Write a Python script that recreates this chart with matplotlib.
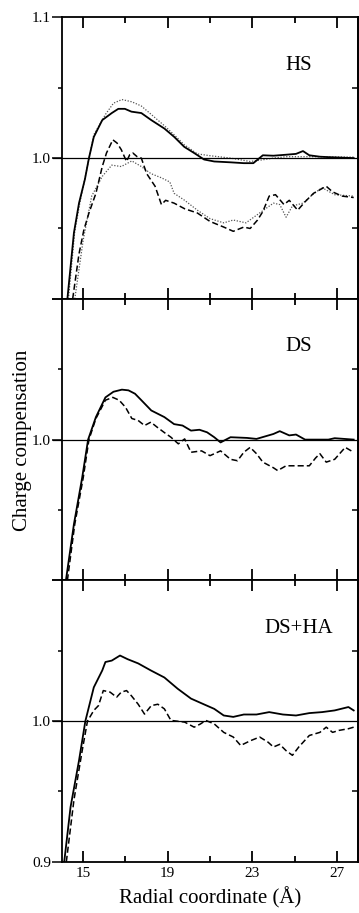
import matplotlib
matplotlib.use("Agg")
import matplotlib.pyplot as plt
from matplotlib.ticker import FixedLocator, FixedFormatter

plt.rcParams.update({
    "font.family": ["Liberation Serif", "DejaVu Serif"],
    "figure.facecolor": "white",
    "axes.facecolor": "white",
    "axes.linewidth": 1.3,
})

# ---- HS panel ----
hs_solid_x = [14.25, 14.56, 14.8, 15.08, 15.27, 15.5, 15.9, 16.35, 16.66, 16.97, 17.28, 17.75,
              18.22, 18.84, 19.31, 19.78, 20.25, 20.72, 21.2, 21.97, 22.6, 23.05, 23.5, 24.0,
              24.6, 25.07, 25.4, 25.7, 26.2, 26.6, 27.8]
hs_solid_y = [0.9, 0.947, 0.968, 0.985, 1.0, 1.015, 1.027, 1.032, 1.035, 1.035, 1.033, 1.032,
              1.027, 1.021, 1.015, 1.008, 1.0036, 0.999, 0.9976, 0.997, 0.9964, 0.9964, 1.002, 1.0017,
              1.0024, 1.003, 1.005, 1.002, 1.001, 1.0007, 1.0]

hs_dot_hi_x = [14.3, 14.6, 14.85, 15.1, 15.5, 16.05, 16.43, 16.83, 17.3, 17.75, 18.22, 18.84,
               19.3, 19.78, 20.4, 21.0, 21.97, 22.9, 23.5, 24.0, 24.6, 25.8, 27.8]
hs_dot_hi_y = [0.9, 0.948, 0.969, 0.987, 1.0166, 1.031, 1.039, 1.0416, 1.040, 1.037, 1.031, 1.023,
               1.0166, 1.0095, 1.003, 1.0017, 1.0, 0.9976, 0.9988, 1.0, 1.001, 1.001, 1.0007]

hs_dash_x = [14.5, 14.8, 15.03, 15.27, 15.6, 15.9, 16.1, 16.4, 16.6, 16.8, 17.05, 17.2, 17.35,
             17.55, 17.75, 18.0, 18.4, 18.7, 18.9, 19.3, 19.8, 20.4, 21.0, 21.65, 22.1, 22.6,
             22.9, 23.25, 23.5, 23.8, 24.1, 24.5, 24.75, 25.15, 25.5, 25.9, 26.5, 26.8, 27.25, 27.8]
hs_dash_y = [0.9, 0.932, 0.949, 0.961, 0.975, 0.994, 1.0036, 1.013, 1.0107, 1.006, 0.9976, 1.0024, 1.0036,
             1.001, 1.0, 0.989, 0.980, 0.967, 0.970, 0.968, 0.964, 0.961, 0.955, 0.951, 0.948, 0.951,
             0.950, 0.956, 0.962, 0.973, 0.974, 0.967, 0.970, 0.963, 0.969, 0.975, 0.980, 0.976, 0.973, 0.972]

hs_dot_lo_x = [14.6, 15.0, 15.4, 15.9, 16.35, 16.8, 17.3, 17.75, 18.2, 18.7, 19.1, 19.3, 19.8,
               20.4, 21.0, 21.65, 22.1, 22.7, 23.35, 24.0, 24.3, 24.6, 24.9, 25.4, 25.85, 26.3,
               26.9, 27.8]
hs_dot_lo_y = [0.9, 0.942, 0.973, 0.987, 0.995, 0.994, 0.998, 0.994, 0.989, 0.986, 0.983, 0.975, 0.970,
               0.963, 0.957, 0.954, 0.956, 0.954, 0.961, 0.968, 0.967, 0.958, 0.966, 0.968, 0.974, 0.979,
               0.974, 0.973]

# ---- DS panel ----
ds_solid_x = [14.18, 14.56, 14.95, 15.23, 15.6, 16.05, 16.43, 16.83, 17.14, 17.45, 17.75, 18.22,
              18.84, 19.3, 19.7, 20.1, 20.5, 20.86, 21.2, 21.5, 21.97, 22.75, 23.2, 24.0, 24.3,
              24.75, 25.07, 25.5, 26.6, 26.9, 27.8]
ds_solid_y = [0.9, 0.940, 0.973, 1.0, 1.016, 1.030, 1.034, 1.0355, 1.035, 1.0326, 1.028, 1.0207,
              1.016, 1.011, 1.010, 1.0064, 1.007, 1.0052, 1.0017, 0.998, 1.0017, 1.0012, 1.0005, 1.004, 1.006,
              1.003, 1.0036, 1.0, 1.0, 1.001, 1.0]

ds_dash_x = [14.25, 14.6, 15.0, 15.27, 15.6, 16.05, 16.4, 16.7, 17.0, 17.3, 17.6, 17.9, 18.2,
             18.5, 18.84, 19.15, 19.5, 19.8, 20.1, 20.6, 21.0, 21.5, 21.97, 22.3, 22.6, 22.9,
             23.2, 23.5, 24.0, 24.2, 24.6, 25.07, 25.7, 26.0, 26.2, 26.5, 26.9, 27.4, 27.8]
ds_dash_y = [0.9, 0.94, 0.973, 1.0, 1.015, 1.028, 1.030, 1.028, 1.023, 1.015, 1.0136, 1.010, 1.0124,
             1.0088, 1.005, 1.0017, 0.997, 1.0005, 0.991, 0.992, 0.9886, 0.992, 0.986, 0.985, 0.991, 0.9945,
             0.990, 0.984, 0.980, 0.978, 0.9814, 0.9814, 0.9814, 0.987, 0.990, 0.984, 0.986, 0.9945, 0.991]

# ---- DS+HA panel ----
dsha_solid_x = [14.1, 14.4, 14.8, 15.1, 15.5, 15.9, 16.05, 16.35, 16.74, 17.1, 17.6, 18.2, 18.84,
                19.47, 20.1, 20.7, 21.2, 21.65, 22.1, 22.6, 23.2, 23.8, 24.45, 25.07, 25.7, 26.3,
                26.9, 27.55, 27.8]
dsha_solid_y = [0.9, 0.939, 0.972, 1.0, 1.024, 1.036, 1.042, 1.043, 1.0466, 1.044, 1.041, 1.036, 1.031,
                1.023, 1.016, 1.012, 1.0087, 1.004, 1.003, 1.0047, 1.0047, 1.0064, 1.0047, 1.004, 1.0057, 1.0064,
                1.0076, 1.010, 1.0076]

dsha_dash_x = [14.2, 14.56, 14.95, 15.2, 15.5, 15.72, 15.95, 16.27, 16.58, 16.8, 17.05, 17.28, 17.6,
               17.9, 18.22, 18.53, 18.84, 19.15, 19.8, 20.25, 20.55, 20.8, 21.2, 21.65, 22.1, 22.45,
               22.9, 23.35, 23.75, 24.0, 24.3, 24.6, 24.9, 25.2, 25.7, 26.2, 26.5, 26.8, 27.1, 27.55, 27.8]
dsha_dash_y = [0.9, 0.944, 0.979, 1.0, 1.0076, 1.011, 1.0217, 1.0206, 1.017, 1.0206, 1.0217, 1.018, 1.012,
               1.005, 1.011, 1.012, 1.0087, 1.0005, 0.9993, 0.9957, 0.998, 1.0005, 0.998, 0.992, 0.9887, 0.9827,
               0.986, 0.9887, 0.985, 0.9816, 0.9835, 0.979, 0.9757, 0.9816, 0.9898, 0.992, 0.9957, 0.992, 0.9934,
               0.9946, 0.9957]

panel_names = ["HS", "DS", "DS+HA"]
x_major = [15, 19, 23, 27]
x_minor = [17, 21, 25]
y_labels = [{1.1: "1.1", 1.0: "1.0"}, {1.0: "1.0"}, {1.0: "1.0", 0.9: "0.9"}]

fig, axes = plt.subplots(3, 1, figsize=(3.59, 9.13), dpi=100, sharex=True)
fig.subplots_adjust(left=0.173, right=0.997, top=0.981, bottom=0.056, hspace=0)

solid_kw = dict(color="black", lw=1.3)
dash_kw = dict(color="black", lw=1.1, linestyle=(0, (4, 2)))
dot_kw = dict(color="#555555", lw=0.9, linestyle=(0, (1, 1.3)))

axes[0].plot(hs_dot_hi_x, hs_dot_hi_y, **dot_kw)
axes[0].plot(hs_dot_lo_x, hs_dot_lo_y, **dot_kw)
axes[0].plot(hs_solid_x, hs_solid_y, **solid_kw)
axes[0].plot(hs_dash_x, hs_dash_y, **dash_kw)

axes[1].plot(ds_solid_x, ds_solid_y, **solid_kw)
axes[1].plot(ds_dash_x, ds_dash_y, **dash_kw)

axes[2].plot(dsha_solid_x, dsha_solid_y, **solid_kw)
axes[2].plot(dsha_dash_x, dsha_dash_y, **dash_kw)

for ax, name, labs in zip(axes, panel_names, y_labels):
    ax.set_xlim(14, 28)
    ax.set_ylim(0.9, 1.1)
    ax.axhline(1.0, color="black", lw=0.9, xmin=-0.03, clip_on=False)
    ax.text(25.2, 1.066, name, ha="center", va="center", fontsize=15)

    ax.xaxis.set_major_locator(FixedLocator(x_major))
    ax.xaxis.set_minor_locator(FixedLocator(x_minor))
    ax.tick_params(axis="x", which="both", direction="in", top=True, bottom=True,
                   width=1.3, labelsize=11)
    ax.tick_params(axis="x", which="major", length=8)
    ax.tick_params(axis="x", which="minor", length=4)

    ticks = [0.9, 1.0, 1.1]
    ax.yaxis.set_major_locator(FixedLocator(ticks))
    ax.yaxis.set_major_formatter(FixedFormatter([labs.get(t, "") for t in ticks]))
    ax.yaxis.set_minor_locator(FixedLocator([0.95, 1.05]))
    ax.tick_params(axis="y", which="both", direction="out", left=True, right=False,
                   width=1.1, labelsize=11, pad=1)
    ax.tick_params(axis="y", which="major", length=7)
    ax.tick_params(axis="y", which="minor", length=3)

    # inward ticks on the right side
    r = ax.secondary_yaxis("right")
    r.yaxis.set_major_locator(FixedLocator([0.95, 1.05]))
    r.tick_params(direction="in", length=4.5, width=1.1, labelright=False)

for ax in axes[:-1]:
    ax.tick_params(axis="x", labelbottom=False)

axes[2].set_xlabel("Radial coordinate (\u00c5)", fontsize=15, labelpad=5)
fig.text(0.064, 0.518, "Charge compensation", rotation=90, ha="center", va="center", fontsize=15)

fig.savefig("out.png", dpi=100)
